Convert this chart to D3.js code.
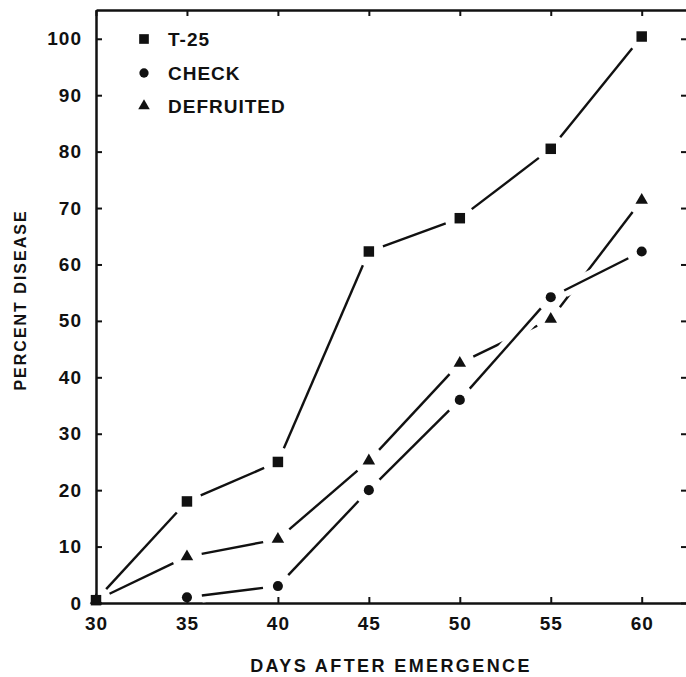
<!DOCTYPE html>
<html>
<head>
<meta charset="utf-8">
<script src="https://cdn.jsdelivr.net/npm/d3@7"></script>
<style>
  body { margin: 0; background: #fff; overflow: hidden; }
  svg { display: block; }
  text { font-family: "Liberation Sans", Arial, sans-serif; font-weight: bold; fill: #111; }
</style>
</head>
<body>
<div id="chart"></div>
<script>
// data
var days = [30, 35, 40, 45, 50, 55, 60];
var t25 = [0.5, 18, 25, 62.3, 68.2, 80.5, 100.4];
var check = [null, 1, 3, 20, 36, 54.2, 62.3];
var defruited = [0.5, 8.2, 11.3, 25.2, 42.5, 50.3, 71.4];
var xTicks = [30, 35, 40, 45, 50, 55, 60];
var yTicks = [0, 10, 20, 30, 40, 50, 60, 70, 80, 90, 100];

var series = [
  { name: "DEFRUITED", values: defruited, shape: d3.symbolTriangle, size: 68, halo: false },
  { name: "CHECK", values: check, shape: d3.symbolCircle, size: 80, halo: true },
  { name: "T-25", values: t25, shape: d3.symbolSquare, size: 110, halo: false }
];
var legendOrder = ["T-25", "CHECK", "DEFRUITED"];

var svgWidth = 686;
var svgHeight = 677;

var svg = d3.select("#chart").append("svg")
  .attr("width", svgWidth)
  .attr("height", svgHeight);

var x = d3.scaleLinear().domain([30, 62.6]).range([96, 689]);
var y = d3.scaleLinear().domain([0, 105.1]).range([603, 10]);

// axes with inward ticks
function styleAxis(g) {
  g.select(".domain").attr("stroke", "#111").attr("stroke-width", 2.5);
  g.selectAll(".tick line").attr("stroke", "#111").attr("stroke-width", 2);
  g.selectAll(".tick text")
    .attr("font-family", "Liberation Sans, Arial, sans-serif")
    .attr("font-weight", "bold")
    .attr("font-size", 19)
    .attr("letter-spacing", "1px")
    .attr("fill", "#111");
}

svg.append("g")
  .attr("transform", "translate(96,0)")
  .call(d3.axisLeft(y).tickValues(yTicks).tickSizeInner(-6).tickSizeOuter(0).tickPadding(14))
  .call(styleAxis);

svg.append("g")
  .attr("transform", "translate(0,603)")
  .call(d3.axisBottom(x).tickValues(xTicks).tickSizeInner(-6).tickSizeOuter(0).tickPadding(14))
  .call(styleAxis);

svg.append("g")
  .attr("transform", "translate(0,10)")
  .call(d3.axisTop(x).tickValues(xTicks).tickSizeInner(-6).tickSizeOuter(0).tickFormat(""))
  .call(styleAxis);

svg.append("g")
  .attr("transform", "translate(687,0)")
  .call(d3.axisRight(y).tickValues(yTicks).tickSizeInner(-6).tickSizeOuter(0).tickFormat(""))
  .call(styleAxis);

// axis titles
svg.append("text")
  .attr("x", 391)
  .attr("y", 672)
  .attr("text-anchor", "middle")
  .attr("font-size", 18)
  .attr("letter-spacing", "2.4px")
  .text("DAYS AFTER EMERGENCE");

svg.append("text")
  .attr("transform", "translate(26,300) rotate(-90)")
  .attr("text-anchor", "middle")
  .attr("font-size", 16)
  .attr("letter-spacing", "2px")
  .text("PERCENT DISEASE");

// lines are broken short of each marker
var gap = 15;
var plot = svg.append("g");

series.forEach(function(s) {
  var pts = [];
  s.values.forEach(function(v, i) {
    if (v !== null) pts.push([x(days[i]), y(v)]);
  });
  var segs = [];
  for (var i = 0; i < pts.length - 1; i++) {
    var a = pts[i], b = pts[i + 1];
    var dx = b[0] - a[0], dy = b[1] - a[1];
    var len = Math.sqrt(dx * dx + dy * dy);
    var ux = dx / len, uy = dy / len;
    segs.push([a[0] + ux * gap, a[1] + uy * gap, b[0] - ux * gap, b[1] - uy * gap]);
  }
  if (s.halo) {
    plot.selectAll(null).data(segs).enter().append("line")
      .attr("x1", d => d[0]).attr("y1", d => d[1])
      .attr("x2", d => d[2]).attr("y2", d => d[3])
      .attr("stroke", "#fff").attr("stroke-width", 14);
  }
  plot.selectAll(null).data(segs).enter().append("line")
    .attr("x1", d => d[0]).attr("y1", d => d[1])
    .attr("x2", d => d[2]).attr("y2", d => d[3])
    .attr("stroke", "#111").attr("stroke-width", 2.4);
});

series.forEach(function(s) {
  var pts = [];
  s.values.forEach(function(v, i) {
    if (v !== null) pts.push([x(days[i]), y(v)]);
  });
  plot.selectAll(null).data(pts).enter().append("path")
    .attr("d", d3.symbol().type(s.shape).size(s.size))
    .attr("transform", d => "translate(" + d[0] + "," + d[1] + ")")
    .attr("fill", "#111");
});

// legend
var legendY = [39, 73, 106];
legendOrder.forEach(function(name, i) {
  var s = series.find(d => d.name === name);
  svg.append("path")
    .attr("d", d3.symbol().type(s.shape).size(s.size * 0.85))
    .attr("transform", "translate(144," + legendY[i] + ")")
    .attr("fill", "#111");
  svg.append("text")
    .attr("x", 168)
    .attr("y", legendY[i] + 7)
    .attr("font-size", 19)
    .attr("letter-spacing", "1px")
    .text(name);
});
</script>
</body>
</html>
